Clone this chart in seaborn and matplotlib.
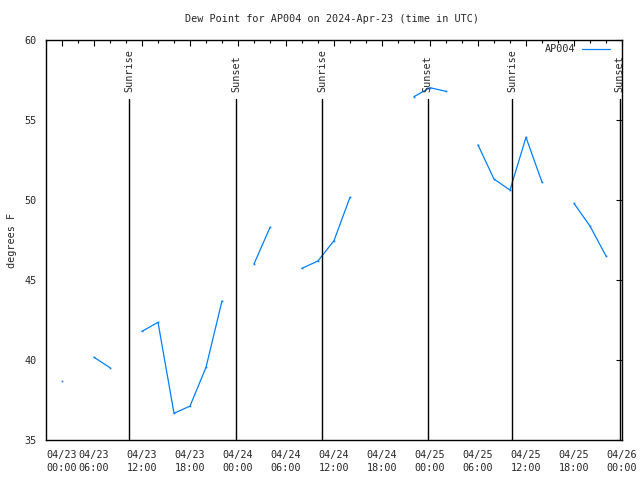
import numpy as np
import pandas as pd
import matplotlib
matplotlib.use("Agg")
import matplotlib.pyplot as plt
from matplotlib.lines import Line2D
from matplotlib.ticker import FixedLocator, MultipleLocator
import seaborn as sns

# hours since 2024-04-23 00:00 UTC, one reading every two hours
hours = list(range(0, 74, 2))
dew_f = [np.nan, 38.67, np.nan, 40.17, 39.52, np.nan, 41.79, 42.36, 36.67, 37.12,
         39.54, 43.69, np.nan, 46.0, 48.29, np.nan, 45.73, 46.19, 47.46, 50.17,
         np.nan, np.nan, np.nan, 56.46, 57.02, 56.79, np.nan, 53.44, 51.31, 50.62,
         53.92, 51.11, np.nan, 49.79, 48.37, 46.5, np.nan]

sun_labels = ["Sunrise", "Sunset", "Sunrise", "Sunset", "Sunrise", "Sunset"]
sun_hours = [10.4, 23.8, 34.5, 47.7, 58.3, 71.7]

tick_hours = [2, 6, 12, 18, 24, 30, 36, 42, 48, 54, 60, 66, 72]
tick_labels = ["04/23\n00:00", "04/23\n06:00", "04/23\n12:00", "04/23\n18:00",
               "04/24\n00:00", "04/24\n06:00", "04/24\n12:00", "04/24\n18:00",
               "04/25\n00:00", "04/25\n06:00", "04/25\n12:00", "04/25\n18:00",
               "04/26\n00:00"]

line_color = "#0080ff"

sns.set_style("white")
plt.rcParams["font.family"] = ["DejaVu Sans Mono"]
plt.rcParams["font.size"] = 7.3

# break the line wherever a reading is missing
df = pd.DataFrame({"hour": hours, "dew": dew_f})
df["segment"] = df["dew"].isna().cumsum()
df = df.dropna()

fig = plt.figure(figsize=(6.4, 4.8), dpi=100)
ax = fig.add_axes([46 / 640, 1 - 440 / 480, 576 / 640, 400 / 480])

sns.lineplot(data=df, x="hour", y="dew", units="segment", estimator=None,
             color=line_color, linewidth=0.9, marker="s", markersize=1.2,
             markeredgewidth=0, ax=ax)

for lab, h in zip(sun_labels, sun_hours):
    ax.axvline(h, ymin=0, ymax=0.8525, color="black", linewidth=1)
    ax.text(h, 0.87, lab, transform=ax.get_xaxis_transform(), rotation=90,
            ha="center", va="bottom")

ax.set_xlim(0, 72)
ax.set_ylim(35, 60)
ax.xaxis.set_major_locator(FixedLocator(tick_hours))
ax.set_xticklabels(tick_labels, linespacing=1.45)
ax.xaxis.set_minor_locator(MultipleLocator(2))
ax.yaxis.set_major_locator(MultipleLocator(5))
ax.tick_params(which="both", direction="in", top=True, right=True, color="black")
ax.tick_params(which="major", length=4.5, width=0.8)
ax.tick_params(which="minor", length=2.2, width=0.8)
ax.tick_params(axis="x", which="major", pad=7)
ax.tick_params(axis="y", which="major", pad=7)
for s in ax.spines.values():
    s.set_color("black")
    s.set_linewidth(1)

ax.set_xlabel("")
ax.set_ylabel("")
fig.text(12 / 640, 0.5, "degrees F", rotation=90, ha="center", va="center")
fig.text(332 / 640, 1 - 19 / 480, "Dew Point for AP004 on 2024-Apr-23 (time in UTC)",
         ha="center", va="center")

handle = Line2D([], [], color=line_color, linewidth=0.9)
ax.legend([handle], ["AP004"], loc="upper right", bbox_to_anchor=(0.987, 1.0),
          frameon=False, markerfirst=False, borderaxespad=0,
          handlelength=2.8, handletextpad=0.7)

fig.savefig("out.png", dpi=100)
